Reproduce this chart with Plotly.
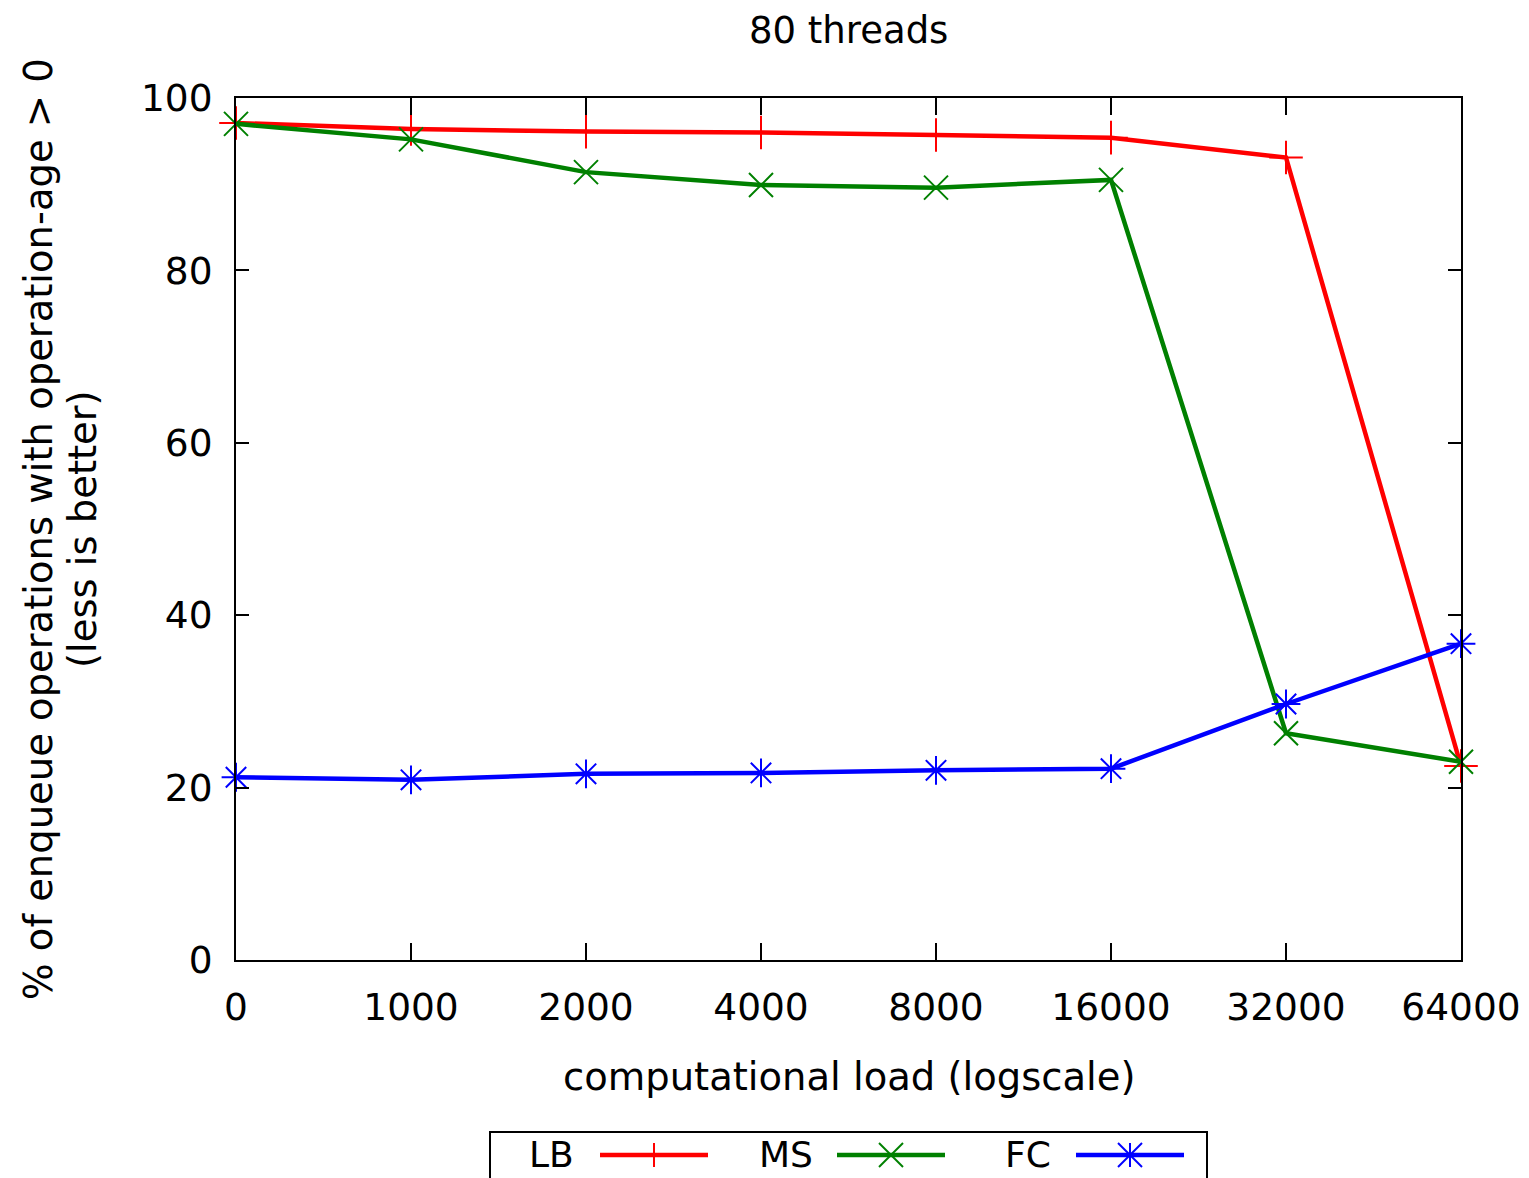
import plotly.graph_objects as go

# ---- data ----
loads = ["0", "1000", "2000", "4000", "8000", "16000", "32000", "64000"]
lb = [97.1, 96.4, 96.1, 96.0, 95.7, 95.4, 93.1, 22.5]
ms = [97.0, 95.2, 91.4, 89.9, 89.6, 90.5, 26.3, 23.0]
fc = [21.2, 20.9, 21.6, 21.7, 22.0, 22.2, 29.7, 36.7]

series_names = ["LB", "MS", "FC"]
series_colors = ["#ff0000", "#008000", "#0000ff"]
series_symbols = ["cross-thin", "x-thin", "asterisk"]

W, H = 1529, 1178
OFF = 8  # page body margin
L, R, T, B = 236, 1461, 98, 960
FONT = "DejaVu Sans"
FS = 38.5
FT = 37.5


def px(xp):
    return (xp - L) / (R - L)


def py(yp):
    return (B - yp) / (B - T)


fig = go.Figure()
for name, vals, col, sym in zip(series_names, [lb, ms, fc], series_colors, series_symbols):
    fig.add_trace(go.Scatter(
        x=loads, y=vals, name=name, mode="lines+markers",
        line=dict(color=col, width=4.5),
        marker=dict(symbol=sym, size=24, color=col, line=dict(color=col, width=2)),
        cliponaxis=False, showlegend=False,
    ))

axis_common = dict(
    showline=True, linecolor="black", linewidth=2, mirror="ticks",
    ticks="inside", tickcolor="black", tickwidth=2,
    showgrid=False, zeroline=False, automargin=False,
    tickfont=dict(family=FONT, size=FT, color="black"),
)

fig.update_xaxes(type="category", range=[0, 7], ticklen=17,
                 ticklabelstandoff=13, **axis_common)
fig.update_yaxes(range=[0, 100], tickvals=[0, 20, 40, 60, 80, 100], ticklen=13,
                 ticklabelstandoff=14, **axis_common)

shapes = []
annotations = []

# titles
annotations.append(dict(text="80 threads", x=0.5, y=py(30), xref="paper", yref="paper",
                        showarrow=False, font=dict(family=FONT, size=37, color="black"),
                        xanchor="center", yanchor="middle"))
annotations.append(dict(text="computational load (logscale)", x=0.5, y=py(1076),
                        xref="paper", yref="paper", showarrow=False,
                        font=dict(family=FONT, size=FS, color="black"),
                        xanchor="center", yanchor="middle"))
annotations.append(dict(text="% of enqueue operations with operation-age > 0", x=px(38), y=0.5,
                        xref="paper", yref="paper", showarrow=False, textangle=-90,
                        font=dict(family=FONT, size=FS, color="black"),
                        xanchor="center", yanchor="middle"))
annotations.append(dict(text="(less is better)", x=px(82), y=0.5,
                        xref="paper", yref="paper", showarrow=False, textangle=-90,
                        font=dict(family=FONT, size=FS, color="black"),
                        xanchor="center", yanchor="middle"))

# custom legend (gnuplot style: label then sample)
shapes.append(dict(type="rect", xref="paper", yref="paper",
                   x0=px(490), x1=px(1207), y0=py(1132), y1=py(1210),
                   line=dict(color="black", width=2), fillcolor="rgba(0,0,0,0)"))
ly = 1155
leg_text_right = [576, 815, 1053]
leg_line = [(600, 708), (837, 945), (1076, 1184)]
m = 12
for name, col, sym, tr, (a, b) in zip(series_names, series_colors, series_symbols,
                                      leg_text_right, leg_line):
    annotations.append(dict(text=name, x=px(tr), y=py(ly - 1), xref="paper", yref="paper",
                            showarrow=False, xanchor="right", yanchor="middle",
                            font=dict(family=FONT, size=36, color="black")))
    shapes.append(dict(type="line", xref="paper", yref="paper",
                       x0=px(a), x1=px(b), y0=py(ly), y1=py(ly),
                       line=dict(color=col, width=4.5)))
    c = (a + b) / 2
    segs = []
    if sym in ("cross-thin", "asterisk"):
        segs.append((c, ly - m, c, ly + m))
    if sym in ("x-thin", "asterisk"):
        segs.append((c - m, ly - m, c + m, ly + m))
        segs.append((c - m, ly + m, c + m, ly - m))
    for x0, y0, x1, y1 in segs:
        shapes.append(dict(type="line", xref="paper", yref="paper",
                           x0=px(x0), x1=px(x1), y0=py(y0), y1=py(y1),
                           line=dict(color=col, width=2)))

fig.update_layout(
    width=W - OFF, height=H - OFF,
    margin=dict(l=L - OFF, r=W - R, t=T - OFF, b=H - B, pad=0, autoexpand=False),
    paper_bgcolor="white", plot_bgcolor="white",
    font=dict(family=FONT, size=FS, color="black"),
    shapes=shapes, annotations=annotations,
    showlegend=False,
)

fig.write_html("out.html")
